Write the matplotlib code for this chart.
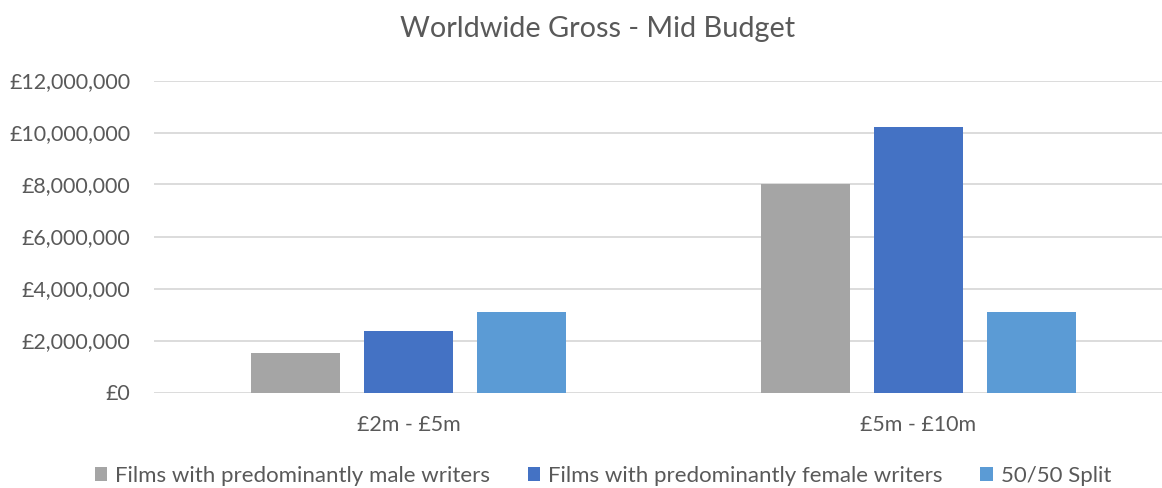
import matplotlib
matplotlib.use("Agg")
import matplotlib.pyplot as plt
import numpy as np
from matplotlib.ticker import FuncFormatter

categories = ["£2m - £5m", "£5m - £10m"]
series_names = ["Films with predominantly male writers",
                "Films with predominantly female writers",
                "50/50 Split"]
male = [1520000, 8020000]
female = [2370000, 10220000]
split = [3100000, 3100000]
colors = ["#A5A5A5", "#4472C4", "#5B9BD5"]
yticks = [0, 2000000, 4000000, 6000000, 8000000, 10000000, 12000000]

plt.rcParams['font.family'] = ['Lato', 'DejaVu Sans']
text_color = "#595959"

fig = plt.figure(figsize=(11.62, 4.88), dpi=100)
ax = fig.add_axes([154/1162, 1-392.5/488, 1-154/1162, (392.5-80.5)/488])

x = np.arange(len(categories))
width = 0.1745
offset = 0.2216
for i, (vals, name) in enumerate(zip([male, female, split], series_names)):
    ax.bar(x + (i-1)*offset, vals, width, color=colors[i], label=name, zorder=3)

ax.set_xlim(-0.499, 1.4775)
ax.set_ylim(0, 12000000)
ax.set_yticks(yticks)
ax.yaxis.set_major_formatter(FuncFormatter(lambda v, p: "£{:,.0f}".format(v)))
ax.grid(axis='y', color="#D9D9D9", linewidth=1.3, zorder=0)
for s in ax.spines.values():
    s.set_visible(False)
ax.tick_params(axis='y', length=0, pad=17, labelsize=15.4, labelcolor=text_color)
ax.set_xticks(x)
ax.set_xticklabels(categories)
ax.tick_params(axis='x', length=0, pad=16, labelsize=15.4, labelcolor=text_color)

fig.text(598/1162, 1-29/488, "Worldwide Gross - Mid Budget", ha='center', va='center',
         fontsize=20.8, color=text_color)

leg = fig.legend(loc='center', bbox_to_anchor=(603/1162, 1-476/488), ncol=3, frameon=False,
                 fontsize=16, handlelength=0.55, handleheight=0.55, handletextpad=0.36,
                 columnspacing=1.7, labelcolor=text_color)

fig.savefig("out.png", dpi=100)
